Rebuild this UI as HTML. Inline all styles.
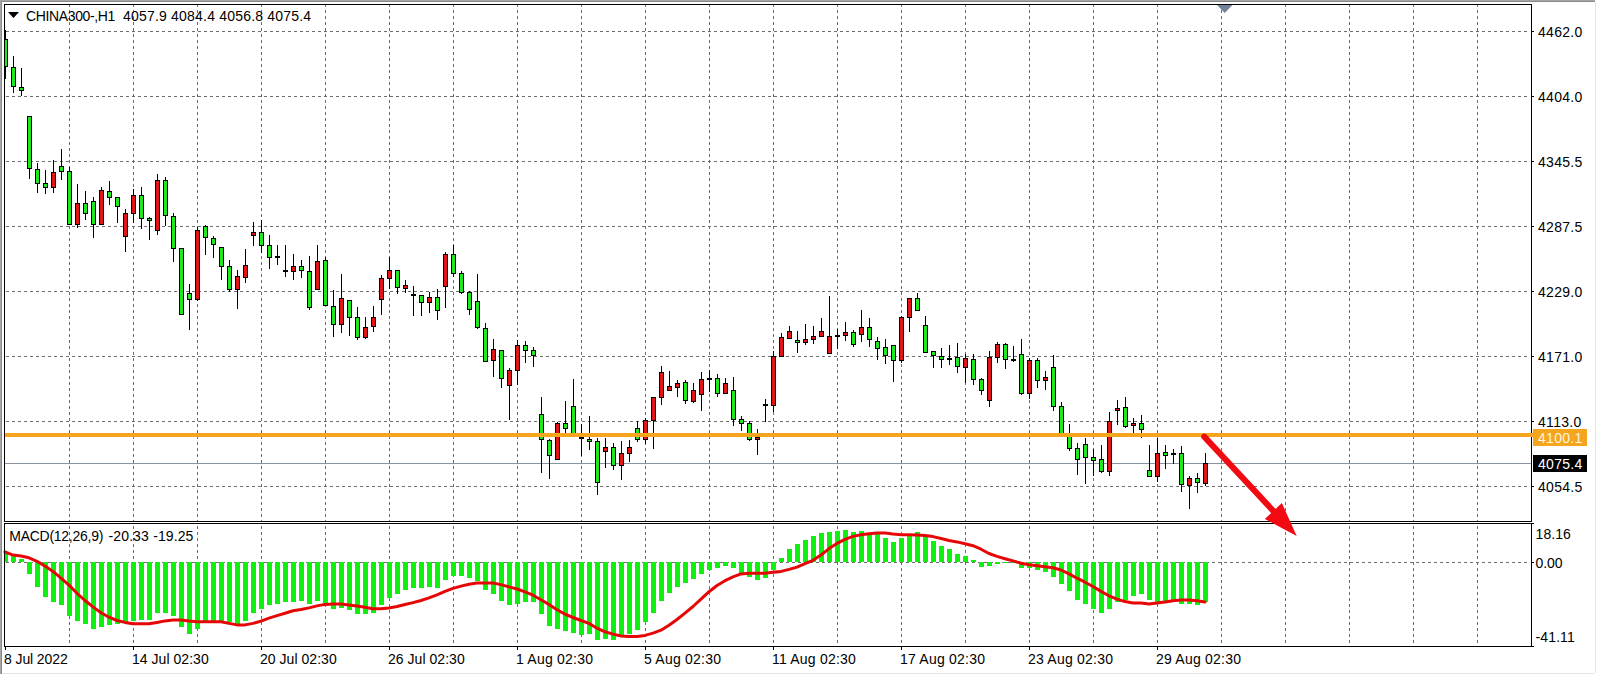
<!DOCTYPE html>
<html><head><meta charset="utf-8"><title>CHINA300-,H1</title>
<style>html,body{margin:0;padding:0;background:#fff;}body{width:1597px;height:675px;overflow:hidden;position:relative;font-family:"Liberation Sans", sans-serif;}svg{position:absolute;left:0;top:0;display:block}text{font-family:"Liberation Sans", sans-serif;font-size:14px;fill:#000}</style>
</head><body>
<svg width="1597" height="675" viewBox="0 0 1597 675">
<rect x="0" y="0" width="1597" height="675" fill="#ffffff"/>
<g shape-rendering="crispEdges">
<rect x="0" y="0" width="1595" height="1" fill="#a6a6a6"/>
<rect x="0" y="1" width="1595" height="1" fill="#8a8a8a"/>
<rect x="0" y="0" width="1" height="674" fill="#a6a6a6"/>
<rect x="1" y="1" width="1" height="673" fill="#8a8a8a"/>
<rect x="1595" y="2" width="1" height="671" fill="#e2e2e2"/>
<rect x="3" y="673" width="1591" height="1" fill="#e2e2e2"/>
</g>
<g shape-rendering="crispEdges" stroke="#6e6e6e" stroke-width="1" fill="none">
<line x1="69.5" y1="4" x2="69.5" y2="521" stroke-dasharray="3 3" stroke-dashoffset="0"/>
<line x1="69.5" y1="523" x2="69.5" y2="646" stroke-dasharray="3 3" stroke-dashoffset="3"/>
<line x1="133.5" y1="4" x2="133.5" y2="521" stroke-dasharray="3 3" stroke-dashoffset="0"/>
<line x1="133.5" y1="523" x2="133.5" y2="646" stroke-dasharray="3 3" stroke-dashoffset="3"/>
<line x1="197.5" y1="4" x2="197.5" y2="521" stroke-dasharray="3 3" stroke-dashoffset="0"/>
<line x1="197.5" y1="523" x2="197.5" y2="646" stroke-dasharray="3 3" stroke-dashoffset="3"/>
<line x1="261.5" y1="4" x2="261.5" y2="521" stroke-dasharray="3 3" stroke-dashoffset="0"/>
<line x1="261.5" y1="523" x2="261.5" y2="646" stroke-dasharray="3 3" stroke-dashoffset="3"/>
<line x1="325.5" y1="4" x2="325.5" y2="521" stroke-dasharray="3 3" stroke-dashoffset="0"/>
<line x1="325.5" y1="523" x2="325.5" y2="646" stroke-dasharray="3 3" stroke-dashoffset="3"/>
<line x1="389.5" y1="4" x2="389.5" y2="521" stroke-dasharray="3 3" stroke-dashoffset="0"/>
<line x1="389.5" y1="523" x2="389.5" y2="646" stroke-dasharray="3 3" stroke-dashoffset="3"/>
<line x1="453.5" y1="4" x2="453.5" y2="521" stroke-dasharray="3 3" stroke-dashoffset="0"/>
<line x1="453.5" y1="523" x2="453.5" y2="646" stroke-dasharray="3 3" stroke-dashoffset="3"/>
<line x1="517.5" y1="4" x2="517.5" y2="521" stroke-dasharray="3 3" stroke-dashoffset="0"/>
<line x1="517.5" y1="523" x2="517.5" y2="646" stroke-dasharray="3 3" stroke-dashoffset="3"/>
<line x1="581.5" y1="4" x2="581.5" y2="521" stroke-dasharray="3 3" stroke-dashoffset="0"/>
<line x1="581.5" y1="523" x2="581.5" y2="646" stroke-dasharray="3 3" stroke-dashoffset="3"/>
<line x1="645.5" y1="4" x2="645.5" y2="521" stroke-dasharray="3 3" stroke-dashoffset="0"/>
<line x1="645.5" y1="523" x2="645.5" y2="646" stroke-dasharray="3 3" stroke-dashoffset="3"/>
<line x1="709.5" y1="4" x2="709.5" y2="521" stroke-dasharray="3 3" stroke-dashoffset="0"/>
<line x1="709.5" y1="523" x2="709.5" y2="646" stroke-dasharray="3 3" stroke-dashoffset="3"/>
<line x1="773.5" y1="4" x2="773.5" y2="521" stroke-dasharray="3 3" stroke-dashoffset="0"/>
<line x1="773.5" y1="523" x2="773.5" y2="646" stroke-dasharray="3 3" stroke-dashoffset="3"/>
<line x1="837.5" y1="4" x2="837.5" y2="521" stroke-dasharray="3 3" stroke-dashoffset="0"/>
<line x1="837.5" y1="523" x2="837.5" y2="646" stroke-dasharray="3 3" stroke-dashoffset="3"/>
<line x1="901.5" y1="4" x2="901.5" y2="521" stroke-dasharray="3 3" stroke-dashoffset="0"/>
<line x1="901.5" y1="523" x2="901.5" y2="646" stroke-dasharray="3 3" stroke-dashoffset="3"/>
<line x1="965.5" y1="4" x2="965.5" y2="521" stroke-dasharray="3 3" stroke-dashoffset="0"/>
<line x1="965.5" y1="523" x2="965.5" y2="646" stroke-dasharray="3 3" stroke-dashoffset="3"/>
<line x1="1029.5" y1="4" x2="1029.5" y2="521" stroke-dasharray="3 3" stroke-dashoffset="0"/>
<line x1="1029.5" y1="523" x2="1029.5" y2="646" stroke-dasharray="3 3" stroke-dashoffset="3"/>
<line x1="1093.5" y1="4" x2="1093.5" y2="521" stroke-dasharray="3 3" stroke-dashoffset="0"/>
<line x1="1093.5" y1="523" x2="1093.5" y2="646" stroke-dasharray="3 3" stroke-dashoffset="3"/>
<line x1="1157.5" y1="4" x2="1157.5" y2="521" stroke-dasharray="3 3" stroke-dashoffset="0"/>
<line x1="1157.5" y1="523" x2="1157.5" y2="646" stroke-dasharray="3 3" stroke-dashoffset="3"/>
<line x1="1221.5" y1="4" x2="1221.5" y2="521" stroke-dasharray="3 3" stroke-dashoffset="0"/>
<line x1="1221.5" y1="523" x2="1221.5" y2="646" stroke-dasharray="3 3" stroke-dashoffset="3"/>
<line x1="1285.5" y1="4" x2="1285.5" y2="521" stroke-dasharray="3 3" stroke-dashoffset="0"/>
<line x1="1285.5" y1="523" x2="1285.5" y2="646" stroke-dasharray="3 3" stroke-dashoffset="3"/>
<line x1="1349.5" y1="4" x2="1349.5" y2="521" stroke-dasharray="3 3" stroke-dashoffset="0"/>
<line x1="1349.5" y1="523" x2="1349.5" y2="646" stroke-dasharray="3 3" stroke-dashoffset="3"/>
<line x1="1413.5" y1="4" x2="1413.5" y2="521" stroke-dasharray="3 3" stroke-dashoffset="0"/>
<line x1="1413.5" y1="523" x2="1413.5" y2="646" stroke-dasharray="3 3" stroke-dashoffset="3"/>
<line x1="1477.5" y1="4" x2="1477.5" y2="521" stroke-dasharray="3 3" stroke-dashoffset="0"/>
<line x1="1477.5" y1="523" x2="1477.5" y2="646" stroke-dasharray="3 3" stroke-dashoffset="3"/>
<line x1="6" y1="31.5" x2="1530" y2="31.5" stroke-dasharray="3 3"/>
<line x1="6" y1="96.5" x2="1530" y2="96.5" stroke-dasharray="3 3"/>
<line x1="6" y1="161.5" x2="1530" y2="161.5" stroke-dasharray="3 3"/>
<line x1="6" y1="226.5" x2="1530" y2="226.5" stroke-dasharray="3 3"/>
<line x1="6" y1="291.5" x2="1530" y2="291.5" stroke-dasharray="3 3"/>
<line x1="6" y1="356.5" x2="1530" y2="356.5" stroke-dasharray="3 3"/>
<line x1="6" y1="421.5" x2="1530" y2="421.5" stroke-dasharray="3 3"/>
<line x1="6" y1="486.5" x2="1530" y2="486.5" stroke-dasharray="3 3"/>
<line x1="6" y1="562.5" x2="1530" y2="562.5" stroke-dasharray="3 3"/>
</g>
<rect x="5" y="463" width="1526" height="1" fill="#8a94a0" shape-rendering="crispEdges"/>
<clipPath id="cp"><rect x="5" y="5" width="1526" height="516"/></clipPath>
<g shape-rendering="crispEdges" clip-path="url(#cp)">
<rect x="5" y="30" width="1" height="49" fill="#000"/>
<rect x="3" y="39" width="5" height="28" fill="#000"/>
<rect x="4" y="40" width="3" height="26" fill="#1eea1e"/>
<rect x="13" y="56" width="1" height="37" fill="#000"/>
<rect x="11" y="67" width="5" height="20" fill="#000"/>
<rect x="12" y="68" width="3" height="18" fill="#1eea1e"/>
<rect x="21" y="68" width="1" height="28" fill="#000"/>
<rect x="19" y="87" width="5" height="4" fill="#000"/>
<rect x="20" y="88" width="3" height="2" fill="#1eea1e"/>
<rect x="29" y="116" width="1" height="63" fill="#000"/>
<rect x="27" y="116" width="5" height="53" fill="#000"/>
<rect x="28" y="117" width="3" height="51" fill="#1eea1e"/>
<rect x="37" y="163" width="1" height="30" fill="#000"/>
<rect x="35" y="169" width="5" height="15" fill="#000"/>
<rect x="36" y="170" width="3" height="13" fill="#1eea1e"/>
<rect x="45" y="170" width="1" height="24" fill="#000"/>
<rect x="43" y="183" width="5" height="5" fill="#000"/>
<rect x="44" y="184" width="3" height="3" fill="#1eea1e"/>
<rect x="53" y="160" width="1" height="33" fill="#000"/>
<rect x="51" y="172" width="5" height="16" fill="#000"/>
<rect x="52" y="173" width="3" height="14" fill="#e31414"/>
<rect x="61" y="149" width="1" height="31" fill="#000"/>
<rect x="59" y="166" width="5" height="6" fill="#000"/>
<rect x="60" y="167" width="3" height="4" fill="#1eea1e"/>
<rect x="69" y="167" width="1" height="58" fill="#000"/>
<rect x="67" y="171" width="5" height="54" fill="#000"/>
<rect x="68" y="172" width="3" height="52" fill="#1eea1e"/>
<rect x="77" y="184" width="1" height="44" fill="#000"/>
<rect x="75" y="203" width="5" height="22" fill="#000"/>
<rect x="76" y="204" width="3" height="20" fill="#e31414"/>
<rect x="85" y="191" width="1" height="29" fill="#000"/>
<rect x="83" y="203" width="5" height="11" fill="#000"/>
<rect x="84" y="204" width="3" height="9" fill="#1eea1e"/>
<rect x="93" y="197" width="1" height="41" fill="#000"/>
<rect x="91" y="201" width="5" height="24" fill="#000"/>
<rect x="92" y="202" width="3" height="22" fill="#1eea1e"/>
<rect x="101" y="187" width="1" height="38" fill="#000"/>
<rect x="99" y="190" width="5" height="35" fill="#000"/>
<rect x="100" y="191" width="3" height="33" fill="#e31414"/>
<rect x="109" y="181" width="1" height="24" fill="#000"/>
<rect x="107" y="191" width="5" height="7" fill="#000"/>
<rect x="108" y="192" width="3" height="5" fill="#1eea1e"/>
<rect x="117" y="197" width="1" height="26" fill="#000"/>
<rect x="115" y="197" width="5" height="10" fill="#000"/>
<rect x="116" y="198" width="3" height="8" fill="#1eea1e"/>
<rect x="125" y="209" width="1" height="43" fill="#000"/>
<rect x="123" y="213" width="5" height="24" fill="#000"/>
<rect x="124" y="214" width="3" height="22" fill="#e31414"/>
<rect x="133" y="189" width="1" height="34" fill="#000"/>
<rect x="131" y="195" width="5" height="19" fill="#000"/>
<rect x="132" y="196" width="3" height="17" fill="#e31414"/>
<rect x="141" y="187" width="1" height="42" fill="#000"/>
<rect x="139" y="195" width="5" height="24" fill="#000"/>
<rect x="140" y="196" width="3" height="22" fill="#1eea1e"/>
<rect x="149" y="217" width="1" height="23" fill="#000"/>
<rect x="147" y="218" width="5" height="3" fill="#000"/>
<rect x="148" y="219" width="3" height="1" fill="#1eea1e"/>
<rect x="157" y="174" width="1" height="61" fill="#000"/>
<rect x="155" y="180" width="5" height="51" fill="#000"/>
<rect x="156" y="181" width="3" height="49" fill="#e31414"/>
<rect x="165" y="177" width="1" height="49" fill="#000"/>
<rect x="163" y="180" width="5" height="36" fill="#000"/>
<rect x="164" y="181" width="3" height="34" fill="#1eea1e"/>
<rect x="173" y="213" width="1" height="49" fill="#000"/>
<rect x="171" y="216" width="5" height="33" fill="#000"/>
<rect x="172" y="217" width="3" height="31" fill="#1eea1e"/>
<rect x="181" y="248" width="1" height="67" fill="#000"/>
<rect x="179" y="248" width="5" height="67" fill="#000"/>
<rect x="180" y="249" width="3" height="65" fill="#1eea1e"/>
<rect x="189" y="284" width="1" height="46" fill="#000"/>
<rect x="187" y="293" width="5" height="7" fill="#000"/>
<rect x="188" y="294" width="3" height="5" fill="#1eea1e"/>
<rect x="197" y="227" width="1" height="74" fill="#000"/>
<rect x="195" y="230" width="5" height="70" fill="#000"/>
<rect x="196" y="231" width="3" height="68" fill="#e31414"/>
<rect x="205" y="225" width="1" height="30" fill="#000"/>
<rect x="203" y="226" width="5" height="12" fill="#000"/>
<rect x="204" y="227" width="3" height="10" fill="#1eea1e"/>
<rect x="213" y="236" width="1" height="22" fill="#000"/>
<rect x="211" y="238" width="5" height="7" fill="#000"/>
<rect x="212" y="239" width="3" height="5" fill="#1eea1e"/>
<rect x="221" y="247" width="1" height="33" fill="#000"/>
<rect x="219" y="247" width="5" height="20" fill="#000"/>
<rect x="220" y="248" width="3" height="18" fill="#1eea1e"/>
<rect x="229" y="260" width="1" height="32" fill="#000"/>
<rect x="227" y="266" width="5" height="24" fill="#000"/>
<rect x="228" y="267" width="3" height="22" fill="#1eea1e"/>
<rect x="237" y="270" width="1" height="39" fill="#000"/>
<rect x="235" y="276" width="5" height="14" fill="#000"/>
<rect x="236" y="277" width="3" height="12" fill="#e31414"/>
<rect x="245" y="249" width="1" height="34" fill="#000"/>
<rect x="243" y="265" width="5" height="13" fill="#000"/>
<rect x="244" y="266" width="3" height="11" fill="#e31414"/>
<rect x="253" y="222" width="1" height="24" fill="#000"/>
<rect x="251" y="232" width="5" height="4" fill="#000"/>
<rect x="252" y="233" width="3" height="2" fill="#e31414"/>
<rect x="261" y="220" width="1" height="33" fill="#000"/>
<rect x="259" y="232" width="5" height="14" fill="#000"/>
<rect x="260" y="233" width="3" height="12" fill="#1eea1e"/>
<rect x="269" y="235" width="1" height="34" fill="#000"/>
<rect x="267" y="245" width="5" height="13" fill="#000"/>
<rect x="268" y="246" width="3" height="11" fill="#1eea1e"/>
<rect x="277" y="245" width="1" height="20" fill="#000"/>
<rect x="275" y="256" width="5" height="2" fill="#000"/>
<rect x="285" y="245" width="1" height="32" fill="#000"/>
<rect x="283" y="270" width="5" height="2" fill="#000"/>
<rect x="293" y="254" width="1" height="26" fill="#000"/>
<rect x="291" y="266" width="5" height="6" fill="#000"/>
<rect x="292" y="267" width="3" height="4" fill="#e31414"/>
<rect x="301" y="260" width="1" height="18" fill="#000"/>
<rect x="299" y="266" width="5" height="5" fill="#000"/>
<rect x="300" y="267" width="3" height="3" fill="#1eea1e"/>
<rect x="309" y="256" width="1" height="54" fill="#000"/>
<rect x="307" y="271" width="5" height="37" fill="#000"/>
<rect x="308" y="272" width="3" height="35" fill="#1eea1e"/>
<rect x="317" y="245" width="1" height="45" fill="#000"/>
<rect x="315" y="261" width="5" height="29" fill="#000"/>
<rect x="316" y="262" width="3" height="27" fill="#e31414"/>
<rect x="325" y="257" width="1" height="49" fill="#000"/>
<rect x="323" y="260" width="5" height="46" fill="#000"/>
<rect x="324" y="261" width="3" height="44" fill="#1eea1e"/>
<rect x="333" y="290" width="1" height="47" fill="#000"/>
<rect x="331" y="306" width="5" height="19" fill="#000"/>
<rect x="332" y="307" width="3" height="17" fill="#1eea1e"/>
<rect x="341" y="274" width="1" height="59" fill="#000"/>
<rect x="339" y="298" width="5" height="27" fill="#000"/>
<rect x="340" y="299" width="3" height="25" fill="#e31414"/>
<rect x="349" y="300" width="1" height="36" fill="#000"/>
<rect x="347" y="300" width="5" height="18" fill="#000"/>
<rect x="348" y="301" width="3" height="16" fill="#1eea1e"/>
<rect x="357" y="307" width="1" height="33" fill="#000"/>
<rect x="355" y="317" width="5" height="21" fill="#000"/>
<rect x="356" y="318" width="3" height="19" fill="#1eea1e"/>
<rect x="365" y="317" width="1" height="22" fill="#000"/>
<rect x="363" y="327" width="5" height="11" fill="#000"/>
<rect x="364" y="328" width="3" height="9" fill="#e31414"/>
<rect x="373" y="306" width="1" height="26" fill="#000"/>
<rect x="371" y="317" width="5" height="10" fill="#000"/>
<rect x="372" y="318" width="3" height="8" fill="#e31414"/>
<rect x="381" y="275" width="1" height="40" fill="#000"/>
<rect x="379" y="278" width="5" height="22" fill="#000"/>
<rect x="380" y="279" width="3" height="20" fill="#e31414"/>
<rect x="389" y="257" width="1" height="32" fill="#000"/>
<rect x="387" y="270" width="5" height="9" fill="#000"/>
<rect x="388" y="271" width="3" height="7" fill="#e31414"/>
<rect x="397" y="270" width="1" height="24" fill="#000"/>
<rect x="395" y="270" width="5" height="18" fill="#000"/>
<rect x="396" y="271" width="3" height="16" fill="#1eea1e"/>
<rect x="405" y="280" width="1" height="13" fill="#000"/>
<rect x="403" y="285" width="5" height="4" fill="#000"/>
<rect x="404" y="286" width="3" height="2" fill="#e31414"/>
<rect x="413" y="286" width="1" height="30" fill="#000"/>
<rect x="411" y="294" width="5" height="2" fill="#000"/>
<rect x="421" y="295" width="1" height="21" fill="#000"/>
<rect x="419" y="295" width="5" height="8" fill="#000"/>
<rect x="420" y="296" width="3" height="6" fill="#1eea1e"/>
<rect x="429" y="292" width="1" height="21" fill="#000"/>
<rect x="427" y="297" width="5" height="6" fill="#000"/>
<rect x="428" y="298" width="3" height="4" fill="#e31414"/>
<rect x="437" y="289" width="1" height="31" fill="#000"/>
<rect x="435" y="297" width="5" height="14" fill="#000"/>
<rect x="436" y="298" width="3" height="12" fill="#1eea1e"/>
<rect x="445" y="252" width="1" height="56" fill="#000"/>
<rect x="443" y="254" width="5" height="33" fill="#000"/>
<rect x="444" y="255" width="3" height="31" fill="#e31414"/>
<rect x="453" y="245" width="1" height="32" fill="#000"/>
<rect x="451" y="254" width="5" height="20" fill="#000"/>
<rect x="452" y="255" width="3" height="18" fill="#1eea1e"/>
<rect x="461" y="271" width="1" height="23" fill="#000"/>
<rect x="459" y="273" width="5" height="20" fill="#000"/>
<rect x="460" y="274" width="3" height="18" fill="#1eea1e"/>
<rect x="469" y="291" width="1" height="24" fill="#000"/>
<rect x="467" y="292" width="5" height="18" fill="#000"/>
<rect x="468" y="293" width="3" height="16" fill="#1eea1e"/>
<rect x="477" y="274" width="1" height="55" fill="#000"/>
<rect x="475" y="301" width="5" height="27" fill="#000"/>
<rect x="476" y="302" width="3" height="25" fill="#1eea1e"/>
<rect x="485" y="323" width="1" height="39" fill="#000"/>
<rect x="483" y="328" width="5" height="34" fill="#000"/>
<rect x="484" y="329" width="3" height="32" fill="#1eea1e"/>
<rect x="493" y="339" width="1" height="38" fill="#000"/>
<rect x="491" y="349" width="5" height="12" fill="#000"/>
<rect x="492" y="350" width="3" height="10" fill="#e31414"/>
<rect x="501" y="350" width="1" height="38" fill="#000"/>
<rect x="499" y="350" width="5" height="29" fill="#000"/>
<rect x="500" y="351" width="3" height="27" fill="#1eea1e"/>
<rect x="509" y="368" width="1" height="52" fill="#000"/>
<rect x="507" y="370" width="5" height="16" fill="#000"/>
<rect x="508" y="371" width="3" height="14" fill="#e31414"/>
<rect x="517" y="340" width="1" height="45" fill="#000"/>
<rect x="515" y="345" width="5" height="26" fill="#000"/>
<rect x="516" y="346" width="3" height="24" fill="#e31414"/>
<rect x="525" y="341" width="1" height="22" fill="#000"/>
<rect x="523" y="345" width="5" height="6" fill="#000"/>
<rect x="524" y="346" width="3" height="4" fill="#1eea1e"/>
<rect x="533" y="347" width="1" height="20" fill="#000"/>
<rect x="531" y="350" width="5" height="6" fill="#000"/>
<rect x="532" y="351" width="3" height="4" fill="#1eea1e"/>
<rect x="541" y="397" width="1" height="76" fill="#000"/>
<rect x="539" y="414" width="5" height="26" fill="#000"/>
<rect x="540" y="415" width="3" height="24" fill="#1eea1e"/>
<rect x="549" y="439" width="1" height="40" fill="#000"/>
<rect x="547" y="440" width="5" height="16" fill="#000"/>
<rect x="548" y="441" width="3" height="14" fill="#1eea1e"/>
<rect x="557" y="422" width="1" height="38" fill="#000"/>
<rect x="555" y="423" width="5" height="37" fill="#000"/>
<rect x="556" y="424" width="3" height="35" fill="#e31414"/>
<rect x="565" y="401" width="1" height="32" fill="#000"/>
<rect x="563" y="423" width="5" height="6" fill="#000"/>
<rect x="564" y="424" width="3" height="4" fill="#1eea1e"/>
<rect x="573" y="379" width="1" height="57" fill="#000"/>
<rect x="571" y="406" width="5" height="30" fill="#000"/>
<rect x="572" y="407" width="3" height="28" fill="#1eea1e"/>
<rect x="581" y="424" width="1" height="32" fill="#000"/>
<rect x="579" y="437" width="5" height="2" fill="#000"/>
<rect x="589" y="416" width="1" height="34" fill="#000"/>
<rect x="587" y="439" width="5" height="3" fill="#000"/>
<rect x="588" y="440" width="3" height="1" fill="#1eea1e"/>
<rect x="597" y="438" width="1" height="57" fill="#000"/>
<rect x="595" y="441" width="5" height="42" fill="#000"/>
<rect x="596" y="442" width="3" height="40" fill="#1eea1e"/>
<rect x="605" y="438" width="1" height="30" fill="#000"/>
<rect x="603" y="447" width="5" height="5" fill="#000"/>
<rect x="604" y="448" width="3" height="3" fill="#e31414"/>
<rect x="613" y="443" width="1" height="27" fill="#000"/>
<rect x="611" y="447" width="5" height="19" fill="#000"/>
<rect x="612" y="448" width="3" height="17" fill="#1eea1e"/>
<rect x="621" y="441" width="1" height="39" fill="#000"/>
<rect x="619" y="453" width="5" height="13" fill="#000"/>
<rect x="620" y="454" width="3" height="11" fill="#e31414"/>
<rect x="629" y="440" width="1" height="22" fill="#000"/>
<rect x="627" y="447" width="5" height="7" fill="#000"/>
<rect x="628" y="448" width="3" height="5" fill="#e31414"/>
<rect x="637" y="421" width="1" height="21" fill="#000"/>
<rect x="635" y="428" width="5" height="12" fill="#000"/>
<rect x="636" y="429" width="3" height="10" fill="#1eea1e"/>
<rect x="645" y="418" width="1" height="26" fill="#000"/>
<rect x="643" y="420" width="5" height="20" fill="#000"/>
<rect x="644" y="421" width="3" height="18" fill="#e31414"/>
<rect x="653" y="397" width="1" height="52" fill="#000"/>
<rect x="651" y="397" width="5" height="24" fill="#000"/>
<rect x="652" y="398" width="3" height="22" fill="#e31414"/>
<rect x="661" y="366" width="1" height="39" fill="#000"/>
<rect x="659" y="372" width="5" height="26" fill="#000"/>
<rect x="660" y="373" width="3" height="24" fill="#e31414"/>
<rect x="669" y="371" width="1" height="20" fill="#000"/>
<rect x="667" y="386" width="5" height="5" fill="#000"/>
<rect x="668" y="387" width="3" height="3" fill="#e31414"/>
<rect x="677" y="380" width="1" height="17" fill="#000"/>
<rect x="675" y="383" width="5" height="5" fill="#000"/>
<rect x="676" y="384" width="3" height="3" fill="#e31414"/>
<rect x="685" y="380" width="1" height="24" fill="#000"/>
<rect x="683" y="382" width="5" height="19" fill="#000"/>
<rect x="684" y="383" width="3" height="17" fill="#1eea1e"/>
<rect x="693" y="383" width="1" height="20" fill="#000"/>
<rect x="691" y="390" width="5" height="12" fill="#000"/>
<rect x="692" y="391" width="3" height="10" fill="#e31414"/>
<rect x="701" y="372" width="1" height="39" fill="#000"/>
<rect x="699" y="379" width="5" height="16" fill="#000"/>
<rect x="700" y="380" width="3" height="14" fill="#e31414"/>
<rect x="709" y="370" width="1" height="22" fill="#000"/>
<rect x="707" y="378" width="5" height="2" fill="#000"/>
<rect x="717" y="374" width="1" height="23" fill="#000"/>
<rect x="715" y="378" width="5" height="16" fill="#000"/>
<rect x="716" y="379" width="3" height="14" fill="#1eea1e"/>
<rect x="725" y="378" width="1" height="16" fill="#000"/>
<rect x="723" y="383" width="5" height="11" fill="#000"/>
<rect x="724" y="384" width="3" height="9" fill="#e31414"/>
<rect x="733" y="377" width="1" height="49" fill="#000"/>
<rect x="731" y="390" width="5" height="30" fill="#000"/>
<rect x="732" y="391" width="3" height="28" fill="#1eea1e"/>
<rect x="741" y="416" width="1" height="15" fill="#000"/>
<rect x="739" y="419" width="5" height="5" fill="#000"/>
<rect x="740" y="420" width="3" height="3" fill="#1eea1e"/>
<rect x="749" y="421" width="1" height="20" fill="#000"/>
<rect x="747" y="423" width="5" height="17" fill="#000"/>
<rect x="748" y="424" width="3" height="15" fill="#1eea1e"/>
<rect x="757" y="429" width="1" height="26" fill="#000"/>
<rect x="755" y="437" width="5" height="3" fill="#000"/>
<rect x="756" y="438" width="3" height="1" fill="#e31414"/>
<rect x="765" y="399" width="1" height="23" fill="#000"/>
<rect x="763" y="404" width="5" height="2" fill="#000"/>
<rect x="773" y="351" width="1" height="61" fill="#000"/>
<rect x="771" y="356" width="5" height="50" fill="#000"/>
<rect x="772" y="357" width="3" height="48" fill="#e31414"/>
<rect x="781" y="333" width="1" height="24" fill="#000"/>
<rect x="779" y="337" width="5" height="20" fill="#000"/>
<rect x="780" y="338" width="3" height="18" fill="#e31414"/>
<rect x="789" y="326" width="1" height="13" fill="#000"/>
<rect x="787" y="331" width="5" height="8" fill="#000"/>
<rect x="788" y="332" width="3" height="6" fill="#e31414"/>
<rect x="797" y="331" width="1" height="22" fill="#000"/>
<rect x="795" y="340" width="5" height="3" fill="#000"/>
<rect x="796" y="341" width="3" height="1" fill="#1eea1e"/>
<rect x="805" y="324" width="1" height="21" fill="#000"/>
<rect x="803" y="339" width="5" height="4" fill="#000"/>
<rect x="804" y="340" width="3" height="2" fill="#e31414"/>
<rect x="813" y="326" width="1" height="18" fill="#000"/>
<rect x="811" y="336" width="5" height="4" fill="#000"/>
<rect x="812" y="337" width="3" height="2" fill="#e31414"/>
<rect x="821" y="318" width="1" height="19" fill="#000"/>
<rect x="819" y="331" width="5" height="6" fill="#000"/>
<rect x="820" y="332" width="3" height="4" fill="#e31414"/>
<rect x="829" y="296" width="1" height="58" fill="#000"/>
<rect x="827" y="336" width="5" height="18" fill="#000"/>
<rect x="828" y="337" width="3" height="16" fill="#e31414"/>
<rect x="837" y="329" width="1" height="20" fill="#000"/>
<rect x="835" y="335" width="5" height="2" fill="#000"/>
<rect x="845" y="322" width="1" height="19" fill="#000"/>
<rect x="843" y="332" width="5" height="4" fill="#000"/>
<rect x="844" y="333" width="3" height="2" fill="#e31414"/>
<rect x="853" y="330" width="1" height="17" fill="#000"/>
<rect x="851" y="332" width="5" height="13" fill="#000"/>
<rect x="852" y="333" width="3" height="11" fill="#1eea1e"/>
<rect x="861" y="310" width="1" height="32" fill="#000"/>
<rect x="859" y="327" width="5" height="8" fill="#000"/>
<rect x="860" y="328" width="3" height="6" fill="#e31414"/>
<rect x="869" y="318" width="1" height="29" fill="#000"/>
<rect x="867" y="327" width="5" height="13" fill="#000"/>
<rect x="868" y="328" width="3" height="11" fill="#1eea1e"/>
<rect x="877" y="337" width="1" height="23" fill="#000"/>
<rect x="875" y="341" width="5" height="8" fill="#000"/>
<rect x="876" y="342" width="3" height="6" fill="#1eea1e"/>
<rect x="885" y="339" width="1" height="25" fill="#000"/>
<rect x="883" y="347" width="5" height="9" fill="#000"/>
<rect x="884" y="348" width="3" height="7" fill="#1eea1e"/>
<rect x="893" y="345" width="1" height="37" fill="#000"/>
<rect x="891" y="345" width="5" height="16" fill="#000"/>
<rect x="892" y="346" width="3" height="14" fill="#1eea1e"/>
<rect x="901" y="316" width="1" height="47" fill="#000"/>
<rect x="899" y="317" width="5" height="44" fill="#000"/>
<rect x="900" y="318" width="3" height="42" fill="#e31414"/>
<rect x="909" y="298" width="1" height="34" fill="#000"/>
<rect x="907" y="298" width="5" height="20" fill="#000"/>
<rect x="908" y="299" width="3" height="18" fill="#e31414"/>
<rect x="917" y="293" width="1" height="18" fill="#000"/>
<rect x="915" y="298" width="5" height="13" fill="#000"/>
<rect x="916" y="299" width="3" height="11" fill="#1eea1e"/>
<rect x="925" y="316" width="1" height="37" fill="#000"/>
<rect x="923" y="325" width="5" height="28" fill="#000"/>
<rect x="924" y="326" width="3" height="26" fill="#1eea1e"/>
<rect x="933" y="351" width="1" height="17" fill="#000"/>
<rect x="931" y="351" width="5" height="5" fill="#000"/>
<rect x="932" y="352" width="3" height="3" fill="#1eea1e"/>
<rect x="941" y="348" width="1" height="20" fill="#000"/>
<rect x="939" y="356" width="5" height="4" fill="#000"/>
<rect x="940" y="357" width="3" height="2" fill="#1eea1e"/>
<rect x="949" y="345" width="1" height="20" fill="#000"/>
<rect x="947" y="358" width="5" height="2" fill="#000"/>
<rect x="957" y="343" width="1" height="30" fill="#000"/>
<rect x="955" y="357" width="5" height="10" fill="#000"/>
<rect x="956" y="358" width="3" height="8" fill="#1eea1e"/>
<rect x="965" y="354" width="1" height="29" fill="#000"/>
<rect x="963" y="358" width="5" height="10" fill="#000"/>
<rect x="964" y="359" width="3" height="8" fill="#e31414"/>
<rect x="973" y="354" width="1" height="31" fill="#000"/>
<rect x="971" y="359" width="5" height="21" fill="#000"/>
<rect x="972" y="360" width="3" height="19" fill="#1eea1e"/>
<rect x="981" y="378" width="1" height="17" fill="#000"/>
<rect x="979" y="379" width="5" height="12" fill="#000"/>
<rect x="980" y="380" width="3" height="10" fill="#1eea1e"/>
<rect x="989" y="351" width="1" height="56" fill="#000"/>
<rect x="987" y="357" width="5" height="44" fill="#000"/>
<rect x="988" y="358" width="3" height="42" fill="#e31414"/>
<rect x="997" y="342" width="1" height="21" fill="#000"/>
<rect x="995" y="344" width="5" height="14" fill="#000"/>
<rect x="996" y="345" width="3" height="12" fill="#e31414"/>
<rect x="1005" y="343" width="1" height="26" fill="#000"/>
<rect x="1003" y="344" width="5" height="16" fill="#000"/>
<rect x="1004" y="345" width="3" height="14" fill="#1eea1e"/>
<rect x="1013" y="346" width="1" height="16" fill="#000"/>
<rect x="1011" y="359" width="5" height="2" fill="#000"/>
<rect x="1021" y="339" width="1" height="56" fill="#000"/>
<rect x="1019" y="354" width="5" height="40" fill="#000"/>
<rect x="1020" y="355" width="3" height="38" fill="#1eea1e"/>
<rect x="1029" y="358" width="1" height="41" fill="#000"/>
<rect x="1027" y="360" width="5" height="34" fill="#000"/>
<rect x="1028" y="361" width="3" height="32" fill="#e31414"/>
<rect x="1037" y="358" width="1" height="30" fill="#000"/>
<rect x="1035" y="360" width="5" height="21" fill="#000"/>
<rect x="1036" y="361" width="3" height="19" fill="#1eea1e"/>
<rect x="1045" y="371" width="1" height="19" fill="#000"/>
<rect x="1043" y="377" width="5" height="4" fill="#000"/>
<rect x="1044" y="378" width="3" height="2" fill="#e31414"/>
<rect x="1053" y="355" width="1" height="56" fill="#000"/>
<rect x="1051" y="367" width="5" height="40" fill="#000"/>
<rect x="1052" y="368" width="3" height="38" fill="#1eea1e"/>
<rect x="1061" y="402" width="1" height="32" fill="#000"/>
<rect x="1059" y="406" width="5" height="28" fill="#000"/>
<rect x="1060" y="407" width="3" height="26" fill="#1eea1e"/>
<rect x="1069" y="424" width="1" height="27" fill="#000"/>
<rect x="1067" y="434" width="5" height="15" fill="#000"/>
<rect x="1068" y="435" width="3" height="13" fill="#1eea1e"/>
<rect x="1077" y="443" width="1" height="32" fill="#000"/>
<rect x="1075" y="448" width="5" height="12" fill="#000"/>
<rect x="1076" y="449" width="3" height="10" fill="#1eea1e"/>
<rect x="1085" y="438" width="1" height="46" fill="#000"/>
<rect x="1083" y="444" width="5" height="14" fill="#000"/>
<rect x="1084" y="445" width="3" height="12" fill="#1eea1e"/>
<rect x="1093" y="449" width="1" height="27" fill="#000"/>
<rect x="1091" y="457" width="5" height="4" fill="#000"/>
<rect x="1092" y="458" width="3" height="2" fill="#1eea1e"/>
<rect x="1101" y="445" width="1" height="28" fill="#000"/>
<rect x="1099" y="459" width="5" height="13" fill="#000"/>
<rect x="1100" y="460" width="3" height="11" fill="#1eea1e"/>
<rect x="1109" y="412" width="1" height="64" fill="#000"/>
<rect x="1107" y="421" width="5" height="51" fill="#000"/>
<rect x="1108" y="422" width="3" height="49" fill="#e31414"/>
<rect x="1117" y="400" width="1" height="25" fill="#000"/>
<rect x="1115" y="408" width="5" height="3" fill="#000"/>
<rect x="1116" y="409" width="3" height="1" fill="#e31414"/>
<rect x="1125" y="397" width="1" height="31" fill="#000"/>
<rect x="1123" y="407" width="5" height="20" fill="#000"/>
<rect x="1124" y="408" width="3" height="18" fill="#1eea1e"/>
<rect x="1133" y="418" width="1" height="16" fill="#000"/>
<rect x="1131" y="423" width="5" height="3" fill="#000"/>
<rect x="1132" y="424" width="3" height="1" fill="#e31414"/>
<rect x="1141" y="415" width="1" height="23" fill="#000"/>
<rect x="1139" y="423" width="5" height="7" fill="#000"/>
<rect x="1140" y="424" width="3" height="5" fill="#1eea1e"/>
<rect x="1149" y="445" width="1" height="32" fill="#000"/>
<rect x="1147" y="470" width="5" height="7" fill="#000"/>
<rect x="1148" y="471" width="3" height="5" fill="#1eea1e"/>
<rect x="1157" y="438" width="1" height="44" fill="#000"/>
<rect x="1155" y="453" width="5" height="24" fill="#000"/>
<rect x="1156" y="454" width="3" height="22" fill="#e31414"/>
<rect x="1165" y="445" width="1" height="24" fill="#000"/>
<rect x="1163" y="452" width="5" height="4" fill="#000"/>
<rect x="1164" y="453" width="3" height="2" fill="#1eea1e"/>
<rect x="1173" y="449" width="1" height="15" fill="#000"/>
<rect x="1171" y="453" width="5" height="2" fill="#000"/>
<rect x="1181" y="446" width="1" height="46" fill="#000"/>
<rect x="1179" y="453" width="5" height="32" fill="#000"/>
<rect x="1180" y="454" width="3" height="30" fill="#1eea1e"/>
<rect x="1189" y="476" width="1" height="33" fill="#000"/>
<rect x="1187" y="478" width="5" height="8" fill="#000"/>
<rect x="1188" y="479" width="3" height="6" fill="#e31414"/>
<rect x="1197" y="473" width="1" height="20" fill="#000"/>
<rect x="1195" y="478" width="5" height="5" fill="#000"/>
<rect x="1196" y="479" width="3" height="3" fill="#1eea1e"/>
<rect x="1205" y="453" width="1" height="33" fill="#000"/>
<rect x="1203" y="463" width="5" height="21" fill="#000"/>
<rect x="1204" y="464" width="3" height="19" fill="#e31414"/>
</g>
<g shape-rendering="crispEdges" fill="#10f010">
<rect x="5" y="553" width="3" height="9"/>
<rect x="11" y="556" width="5" height="6"/>
<rect x="19" y="559" width="5" height="3"/>
<rect x="27" y="562" width="5" height="12"/>
<rect x="35" y="562" width="5" height="25"/>
<rect x="43" y="562" width="5" height="35"/>
<rect x="51" y="562" width="5" height="40"/>
<rect x="59" y="562" width="5" height="43"/>
<rect x="67" y="562" width="5" height="54"/>
<rect x="75" y="562" width="5" height="59"/>
<rect x="83" y="562" width="5" height="62"/>
<rect x="91" y="562" width="5" height="67"/>
<rect x="99" y="562" width="5" height="65"/>
<rect x="107" y="562" width="5" height="63"/>
<rect x="115" y="562" width="5" height="62"/>
<rect x="123" y="562" width="5" height="61"/>
<rect x="131" y="562" width="5" height="59"/>
<rect x="139" y="562" width="5" height="58"/>
<rect x="147" y="562" width="5" height="58"/>
<rect x="155" y="562" width="5" height="51"/>
<rect x="163" y="562" width="5" height="51"/>
<rect x="171" y="562" width="5" height="54"/>
<rect x="179" y="562" width="5" height="65"/>
<rect x="187" y="562" width="5" height="72"/>
<rect x="195" y="562" width="5" height="67"/>
<rect x="203" y="562" width="5" height="61"/>
<rect x="211" y="562" width="5" height="59"/>
<rect x="219" y="562" width="5" height="59"/>
<rect x="227" y="562" width="5" height="60"/>
<rect x="235" y="562" width="5" height="63"/>
<rect x="243" y="562" width="5" height="59"/>
<rect x="251" y="562" width="5" height="51"/>
<rect x="259" y="562" width="5" height="47"/>
<rect x="267" y="562" width="5" height="43"/>
<rect x="275" y="562" width="5" height="42"/>
<rect x="283" y="562" width="5" height="40"/>
<rect x="291" y="562" width="5" height="40"/>
<rect x="299" y="562" width="5" height="39"/>
<rect x="307" y="562" width="5" height="42"/>
<rect x="315" y="562" width="5" height="39"/>
<rect x="323" y="562" width="5" height="42"/>
<rect x="331" y="562" width="5" height="47"/>
<rect x="339" y="562" width="5" height="46"/>
<rect x="347" y="562" width="5" height="48"/>
<rect x="355" y="562" width="5" height="52"/>
<rect x="363" y="562" width="5" height="52"/>
<rect x="371" y="562" width="5" height="51"/>
<rect x="379" y="562" width="5" height="43"/>
<rect x="387" y="562" width="5" height="36"/>
<rect x="395" y="562" width="5" height="32"/>
<rect x="403" y="562" width="5" height="28"/>
<rect x="411" y="562" width="5" height="26"/>
<rect x="419" y="562" width="5" height="26"/>
<rect x="427" y="562" width="5" height="25"/>
<rect x="435" y="562" width="5" height="26"/>
<rect x="443" y="562" width="5" height="18"/>
<rect x="451" y="562" width="5" height="14"/>
<rect x="459" y="562" width="5" height="14"/>
<rect x="467" y="562" width="5" height="16"/>
<rect x="475" y="562" width="5" height="19"/>
<rect x="483" y="562" width="5" height="28"/>
<rect x="491" y="562" width="5" height="32"/>
<rect x="499" y="562" width="5" height="39"/>
<rect x="507" y="562" width="5" height="43"/>
<rect x="515" y="562" width="5" height="42"/>
<rect x="523" y="562" width="5" height="40"/>
<rect x="531" y="562" width="5" height="40"/>
<rect x="539" y="562" width="5" height="52"/>
<rect x="547" y="562" width="5" height="64"/>
<rect x="555" y="562" width="5" height="67"/>
<rect x="563" y="562" width="5" height="69"/>
<rect x="571" y="562" width="5" height="71"/>
<rect x="579" y="562" width="5" height="73"/>
<rect x="587" y="562" width="5" height="72"/>
<rect x="595" y="562" width="5" height="78"/>
<rect x="603" y="562" width="5" height="77"/>
<rect x="611" y="562" width="5" height="78"/>
<rect x="619" y="562" width="5" height="75"/>
<rect x="627" y="562" width="5" height="72"/>
<rect x="635" y="562" width="5" height="68"/>
<rect x="643" y="562" width="5" height="60"/>
<rect x="651" y="562" width="5" height="51"/>
<rect x="659" y="562" width="5" height="39"/>
<rect x="667" y="562" width="5" height="31"/>
<rect x="675" y="562" width="5" height="25"/>
<rect x="683" y="562" width="5" height="21"/>
<rect x="691" y="562" width="5" height="17"/>
<rect x="699" y="562" width="5" height="12"/>
<rect x="707" y="562" width="5" height="8"/>
<rect x="715" y="562" width="5" height="6"/>
<rect x="723" y="562" width="5" height="4"/>
<rect x="731" y="562" width="5" height="6"/>
<rect x="739" y="562" width="5" height="11"/>
<rect x="747" y="562" width="5" height="15"/>
<rect x="755" y="562" width="5" height="18"/>
<rect x="763" y="562" width="5" height="16"/>
<rect x="771" y="562" width="5" height="8"/>
<rect x="779" y="558" width="5" height="4"/>
<rect x="787" y="549" width="5" height="13"/>
<rect x="795" y="544" width="5" height="18"/>
<rect x="803" y="540" width="5" height="22"/>
<rect x="811" y="536" width="5" height="26"/>
<rect x="819" y="533" width="5" height="29"/>
<rect x="827" y="532" width="5" height="30"/>
<rect x="835" y="531" width="5" height="31"/>
<rect x="843" y="530" width="5" height="32"/>
<rect x="851" y="532" width="5" height="30"/>
<rect x="859" y="531" width="5" height="31"/>
<rect x="867" y="533" width="5" height="29"/>
<rect x="875" y="534" width="5" height="28"/>
<rect x="883" y="538" width="5" height="24"/>
<rect x="891" y="542" width="5" height="20"/>
<rect x="899" y="538" width="5" height="24"/>
<rect x="907" y="536" width="5" height="26"/>
<rect x="915" y="532" width="5" height="30"/>
<rect x="923" y="536" width="5" height="26"/>
<rect x="931" y="541" width="5" height="21"/>
<rect x="939" y="546" width="5" height="16"/>
<rect x="947" y="549" width="5" height="13"/>
<rect x="955" y="554" width="5" height="8"/>
<rect x="963" y="556" width="5" height="6"/>
<rect x="971" y="560" width="5" height="2"/>
<rect x="979" y="562" width="5" height="5"/>
<rect x="987" y="562" width="5" height="4"/>
<rect x="995" y="562" width="5" height="2"/>
<rect x="1003" y="562" width="5" height="1"/>
<rect x="1011" y="562" width="5" height="1"/>
<rect x="1019" y="562" width="5" height="6"/>
<rect x="1027" y="562" width="5" height="6"/>
<rect x="1035" y="562" width="5" height="8"/>
<rect x="1043" y="562" width="5" height="10"/>
<rect x="1051" y="562" width="5" height="15"/>
<rect x="1059" y="562" width="5" height="22"/>
<rect x="1067" y="562" width="5" height="29"/>
<rect x="1075" y="562" width="5" height="38"/>
<rect x="1083" y="562" width="5" height="42"/>
<rect x="1091" y="562" width="5" height="47"/>
<rect x="1099" y="562" width="5" height="51"/>
<rect x="1107" y="562" width="5" height="47"/>
<rect x="1115" y="562" width="5" height="40"/>
<rect x="1123" y="562" width="5" height="38"/>
<rect x="1131" y="562" width="5" height="34"/>
<rect x="1139" y="562" width="5" height="32"/>
<rect x="1147" y="562" width="5" height="38"/>
<rect x="1155" y="562" width="5" height="40"/>
<rect x="1163" y="562" width="5" height="40"/>
<rect x="1171" y="562" width="5" height="38"/>
<rect x="1179" y="562" width="5" height="42"/>
<rect x="1187" y="562" width="5" height="42"/>
<rect x="1195" y="562" width="5" height="43"/>
<rect x="1203" y="562" width="5" height="40"/>
</g>
<polyline points="5,551.9 13,555.1 21,556 29,557.8 37,561.3 45,566.1 53,571.4 61,578.2 69,585.1 77,593.3 85,600.5 93,606.9 101,612.7 109,617.2 117,620.5 125,622.4 133,623.8 141,623.8 149,623.8 157,622.4 165,620.9 173,620.1 181,620.1 189,621.1 197,621.8 205,621.8 213,621.8 221,621.8 229,623.4 237,624.9 245,624.9 253,623.4 261,621.1 269,618.1 277,615.6 285,613.3 293,610.8 301,609.5 309,607.9 317,605.9 325,604.4 333,604 341,604 349,604.9 357,605.9 365,607.3 373,608.8 381,608.8 389,607.9 397,606.5 405,604.5 413,602.6 421,600.5 429,597.8 437,594.8 445,591.4 453,588.4 461,586.1 469,584.2 477,583 485,583 493,583 501,584.6 509,586.9 517,589 525,591.9 533,595.2 541,599.7 549,604.5 557,609.8 565,614.1 573,617.5 581,620.5 589,623.4 597,628.2 605,631.8 613,634.1 621,636 629,636.4 637,636.4 645,635.4 653,633.1 661,630.2 669,625.3 677,619.5 685,613.1 693,606.5 701,599.1 709,591.7 717,585.5 725,580.7 733,576.8 741,573.9 749,573.3 757,573.3 765,573.3 773,572.3 781,571.4 789,569.4 797,567.1 805,563.6 813,560.3 821,555.1 829,548.6 837,543.4 845,539.3 853,536.4 861,534.7 869,533.7 877,533.1 885,533.1 893,534.1 901,534.7 909,534.7 917,535.1 925,535.6 933,536.6 941,538.5 949,540.5 957,541.9 965,543.8 973,545.7 981,549.2 989,553.5 997,556.4 1005,558.7 1013,560.9 1021,563.2 1029,564.8 1037,565.7 1045,566.7 1053,567.7 1061,570 1069,573.9 1077,578.2 1085,582.2 1093,586.5 1101,591.4 1109,595.8 1117,599.1 1125,601.6 1133,603 1141,603 1149,604 1157,603 1165,602 1173,600.7 1181,600.1 1189,600.1 1197,600.7 1205,602" fill="none" stroke="#e60606" stroke-width="3" stroke-linejoin="round" stroke-linecap="round"/>
<g shape-rendering="crispEdges" fill="none" stroke="#000" stroke-width="1">
<rect x="4.5" y="4.5" width="1527" height="517"/>
<rect x="4.5" y="523.5" width="1527" height="123"/>
</g>
<g shape-rendering="crispEdges" fill="#000">
<rect x="1532" y="31" width="2" height="1"/>
<rect x="1532" y="96" width="2" height="1"/>
<rect x="1532" y="161" width="2" height="1"/>
<rect x="1532" y="226" width="2" height="1"/>
<rect x="1532" y="291" width="2" height="1"/>
<rect x="1532" y="356" width="2" height="1"/>
<rect x="1532" y="421" width="2" height="1"/>
<rect x="1532" y="486" width="2" height="1"/>
<rect x="1532" y="523" width="2" height="1"/>
<rect x="1532" y="562" width="2" height="1"/>
<rect x="1532" y="646" width="2" height="1"/>
<rect x="5" y="647" width="1" height="3"/>
<rect x="133" y="647" width="1" height="3"/>
<rect x="261" y="647" width="1" height="3"/>
<rect x="389" y="647" width="1" height="3"/>
<rect x="517" y="647" width="1" height="3"/>
<rect x="645" y="647" width="1" height="3"/>
<rect x="773" y="647" width="1" height="3"/>
<rect x="901" y="647" width="1" height="3"/>
<rect x="1029" y="647" width="1" height="3"/>
<rect x="1157" y="647" width="1" height="3"/>
</g>
<rect x="5" y="433" width="1529" height="4" fill="#f5a51e" shape-rendering="crispEdges"/>
<polygon points="1217,5 1232.5,5 1224.7,13" fill="#738496"/>
<line x1="1204.2" y1="436.6" x2="1275.39" y2="513.176" stroke="#f20a12" stroke-width="6" stroke-linecap="round"/>
<polygon points="1296.7,536.1 1264.81,518.911 1281.88,503.046" fill="#f20a12"/>
<rect x="1533" y="429" width="54" height="17" fill="#f5a51e" shape-rendering="crispEdges"/>
<rect x="1533" y="455" width="54" height="17" fill="#000" shape-rendering="crispEdges"/>
<text x="1538" y="36.5" letter-spacing="0.3" >4462.0</text>
<text x="1538" y="101.5" letter-spacing="0.3" >4404.0</text>
<text x="1538" y="166.5" letter-spacing="0.3" >4345.5</text>
<text x="1538" y="231.5" letter-spacing="0.3" >4287.5</text>
<text x="1538" y="296.5" letter-spacing="0.3" >4229.0</text>
<text x="1538" y="361.5" letter-spacing="0.3" >4171.0</text>
<text x="1538" y="426.5" letter-spacing="0.3" >4113.0</text>
<text x="1538" y="491.5" letter-spacing="0.3" >4054.5</text>
<text x="1538" y="443" letter-spacing="0.3" style="fill:#fff5dc">4100.1</text>
<text x="1538" y="469" letter-spacing="0.3" style="fill:#fff">4075.4</text>
<text x="1535.6" y="539" letter-spacing="0.05" >18.16</text>
<text x="1535.4" y="568" letter-spacing="0" >0.00</text>
<text x="1535.6" y="641.6" letter-spacing="0.1" >-41.11</text>
<text x="4" y="663.6" letter-spacing="-0.1" >8 Jul 2022</text>
<text x="132" y="663.6" letter-spacing="0.04" >14 Jul 02:30</text>
<text x="260" y="663.6" letter-spacing="0.04" >20 Jul 02:30</text>
<text x="388" y="663.6" letter-spacing="0.04" >26 Jul 02:30</text>
<text x="516" y="663.6" letter-spacing="0.22" >1 Aug 02:30</text>
<text x="644" y="663.6" letter-spacing="0.22" >5 Aug 02:30</text>
<text x="772" y="663.6" letter-spacing="0.22" >11 Aug 02:30</text>
<text x="900" y="663.6" letter-spacing="0.22" >17 Aug 02:30</text>
<text x="1028" y="663.6" letter-spacing="0.22" >23 Aug 02:30</text>
<text x="1156" y="663.6" letter-spacing="0.22" >29 Aug 02:30</text>
<polygon points="8,12 19,12 13.5,18" fill="#000"/>
<text x="25.9" y="20.8" letter-spacing="-0.35" >CHINA300-,H1</text>
<text x="123" y="20.8" letter-spacing="0.2" >4057.9 4084.4 4056.8 4075.4</text>
<text x="9.3" y="540.8" letter-spacing="-0.27" >MACD(12,26,9)</text>
<text x="108.6" y="540.8" letter-spacing="0.1" >-20.33</text>
<text x="153.2" y="540.8" letter-spacing="0.1" >-19.25</text>
</svg>
</body></html>
